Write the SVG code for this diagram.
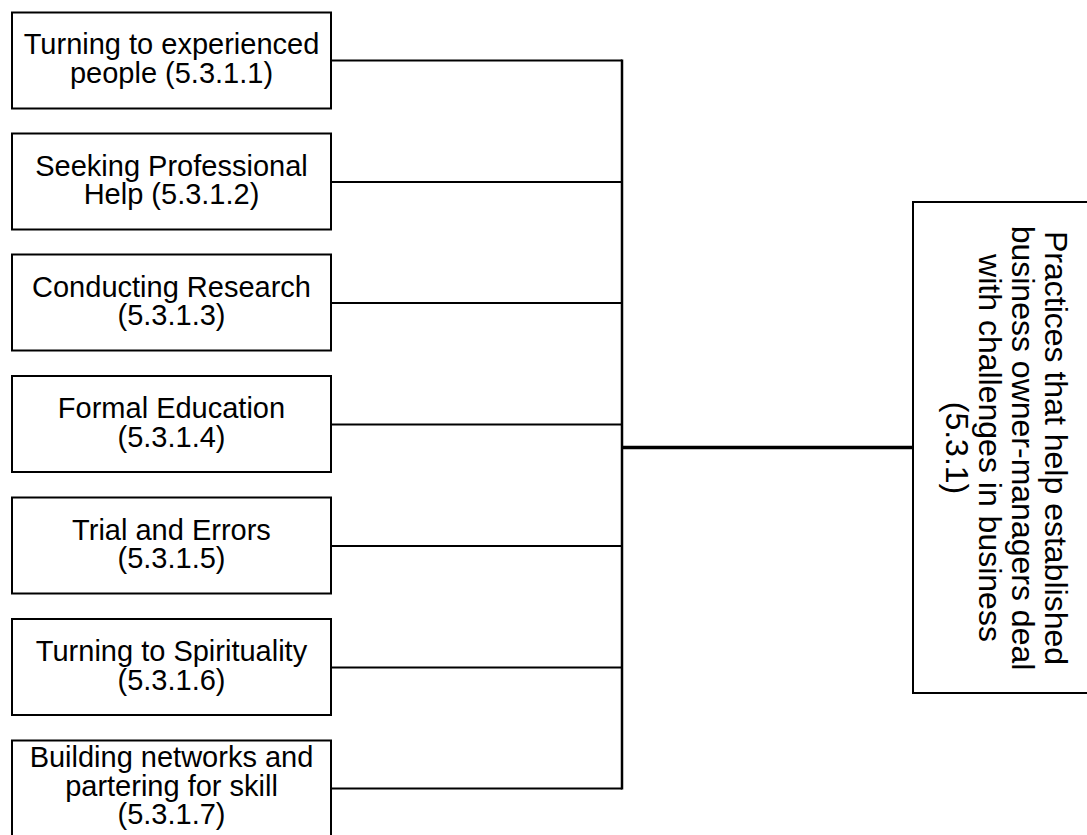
<svg xmlns="http://www.w3.org/2000/svg" width="1087" height="835" viewBox="0 0 1087 835">
  <style>
    .box { fill: #ffffff; stroke: #000000; stroke-width: 2; }
    .lbl { font-family: "Liberation Sans", Arial, sans-serif; font-size: 29px; fill: #000000; text-anchor: middle; }
    .big { font-family: "Liberation Sans", Arial, sans-serif; font-size: 32px; fill: #000000; text-anchor: middle; }
    .branch { stroke: #000000; stroke-width: 2; fill: none; }
    .spine { stroke: #000000; stroke-width: 2.5; fill: none; }
    .trunk { stroke: #000000; stroke-width: 3.5; fill: none; }
  </style>
  <rect width="1087" height="835" fill="#ffffff"/>

  <!-- connectors: each practice feeds a shared spine that joins the main category -->
  <g id="connectors">
    <line class="branch" x1="331" y1="60.5" x2="622" y2="60.5"/>
    <line class="branch" x1="331" y1="182" x2="622" y2="182"/>
    <line class="branch" x1="331" y1="303" x2="622" y2="303"/>
    <line class="branch" x1="331" y1="424.5" x2="622" y2="424.5"/>
    <line class="branch" x1="331" y1="546" x2="622" y2="546"/>
    <line class="branch" x1="331" y1="667.5" x2="622" y2="667.5"/>
    <line class="branch" x1="331" y1="788.5" x2="622" y2="788.5"/>
    <line class="spine" x1="622" y1="59.5" x2="622" y2="789.5"/>
    <line class="trunk" x1="622" y1="447.5" x2="913" y2="447.5"/>
  </g>

  <g id="node-5.3.1.1">
    <rect class="box" x="12" y="12.5" width="319" height="96"/>
    <text class="lbl" x="171.5" y="54">Turning to experienced</text>
    <text class="lbl" x="171.5" y="82.7">people (5.3.1.1)</text>
  </g>

  <g id="node-5.3.1.2">
    <rect class="box" x="12" y="133.5" width="319" height="96"/>
    <text class="lbl" x="171.5" y="175.5">Seeking Professional</text>
    <text class="lbl" x="171.5" y="204.2">Help (5.3.1.2)</text>
  </g>

  <g id="node-5.3.1.3">
    <rect class="box" x="12" y="254.5" width="319" height="96"/>
    <text class="lbl" x="171.5" y="296.5">Conducting Research</text>
    <text class="lbl" x="171.5" y="325.2">(5.3.1.3)</text>
  </g>

  <g id="node-5.3.1.4">
    <rect class="box" x="12" y="376" width="319" height="96"/>
    <text class="lbl" x="171.5" y="418">Formal Education</text>
    <text class="lbl" x="171.5" y="446.7">(5.3.1.4)</text>
  </g>

  <g id="node-5.3.1.5">
    <rect class="box" x="12" y="497.5" width="319" height="96"/>
    <text class="lbl" x="171.5" y="539.5">Trial and Errors</text>
    <text class="lbl" x="171.5" y="568.2">(5.3.1.5)</text>
  </g>

  <g id="node-5.3.1.6">
    <rect class="box" x="12" y="619" width="319" height="96"/>
    <text class="lbl" x="171.5" y="661">Turning to Spirituality</text>
    <text class="lbl" x="171.5" y="689.7">(5.3.1.6)</text>
  </g>

  <g id="node-5.3.1.7">
    <rect class="box" x="12" y="740.5" width="319" height="96"/>
    <text class="lbl" x="171.5" y="767">Building networks and</text>
    <text class="lbl" x="171.5" y="795.5">partering for skill</text>
    <text class="lbl" x="171.5" y="824">(5.3.1.7)</text>
  </g>

  <g id="node-5.3.1">
    <rect class="box" x="913" y="202" width="200" height="491"/>
    <g transform="translate(1045,448) rotate(90)">
      <text class="big" x="0" y="0">Practices that help established</text>
      <text class="big" x="0" y="33">business owner-managers deal</text>
      <text class="big" x="0" y="66">with challenges in business</text>
      <text class="big" x="0" y="99">(5.3.1)</text>
    </g>
  </g>
</svg>
